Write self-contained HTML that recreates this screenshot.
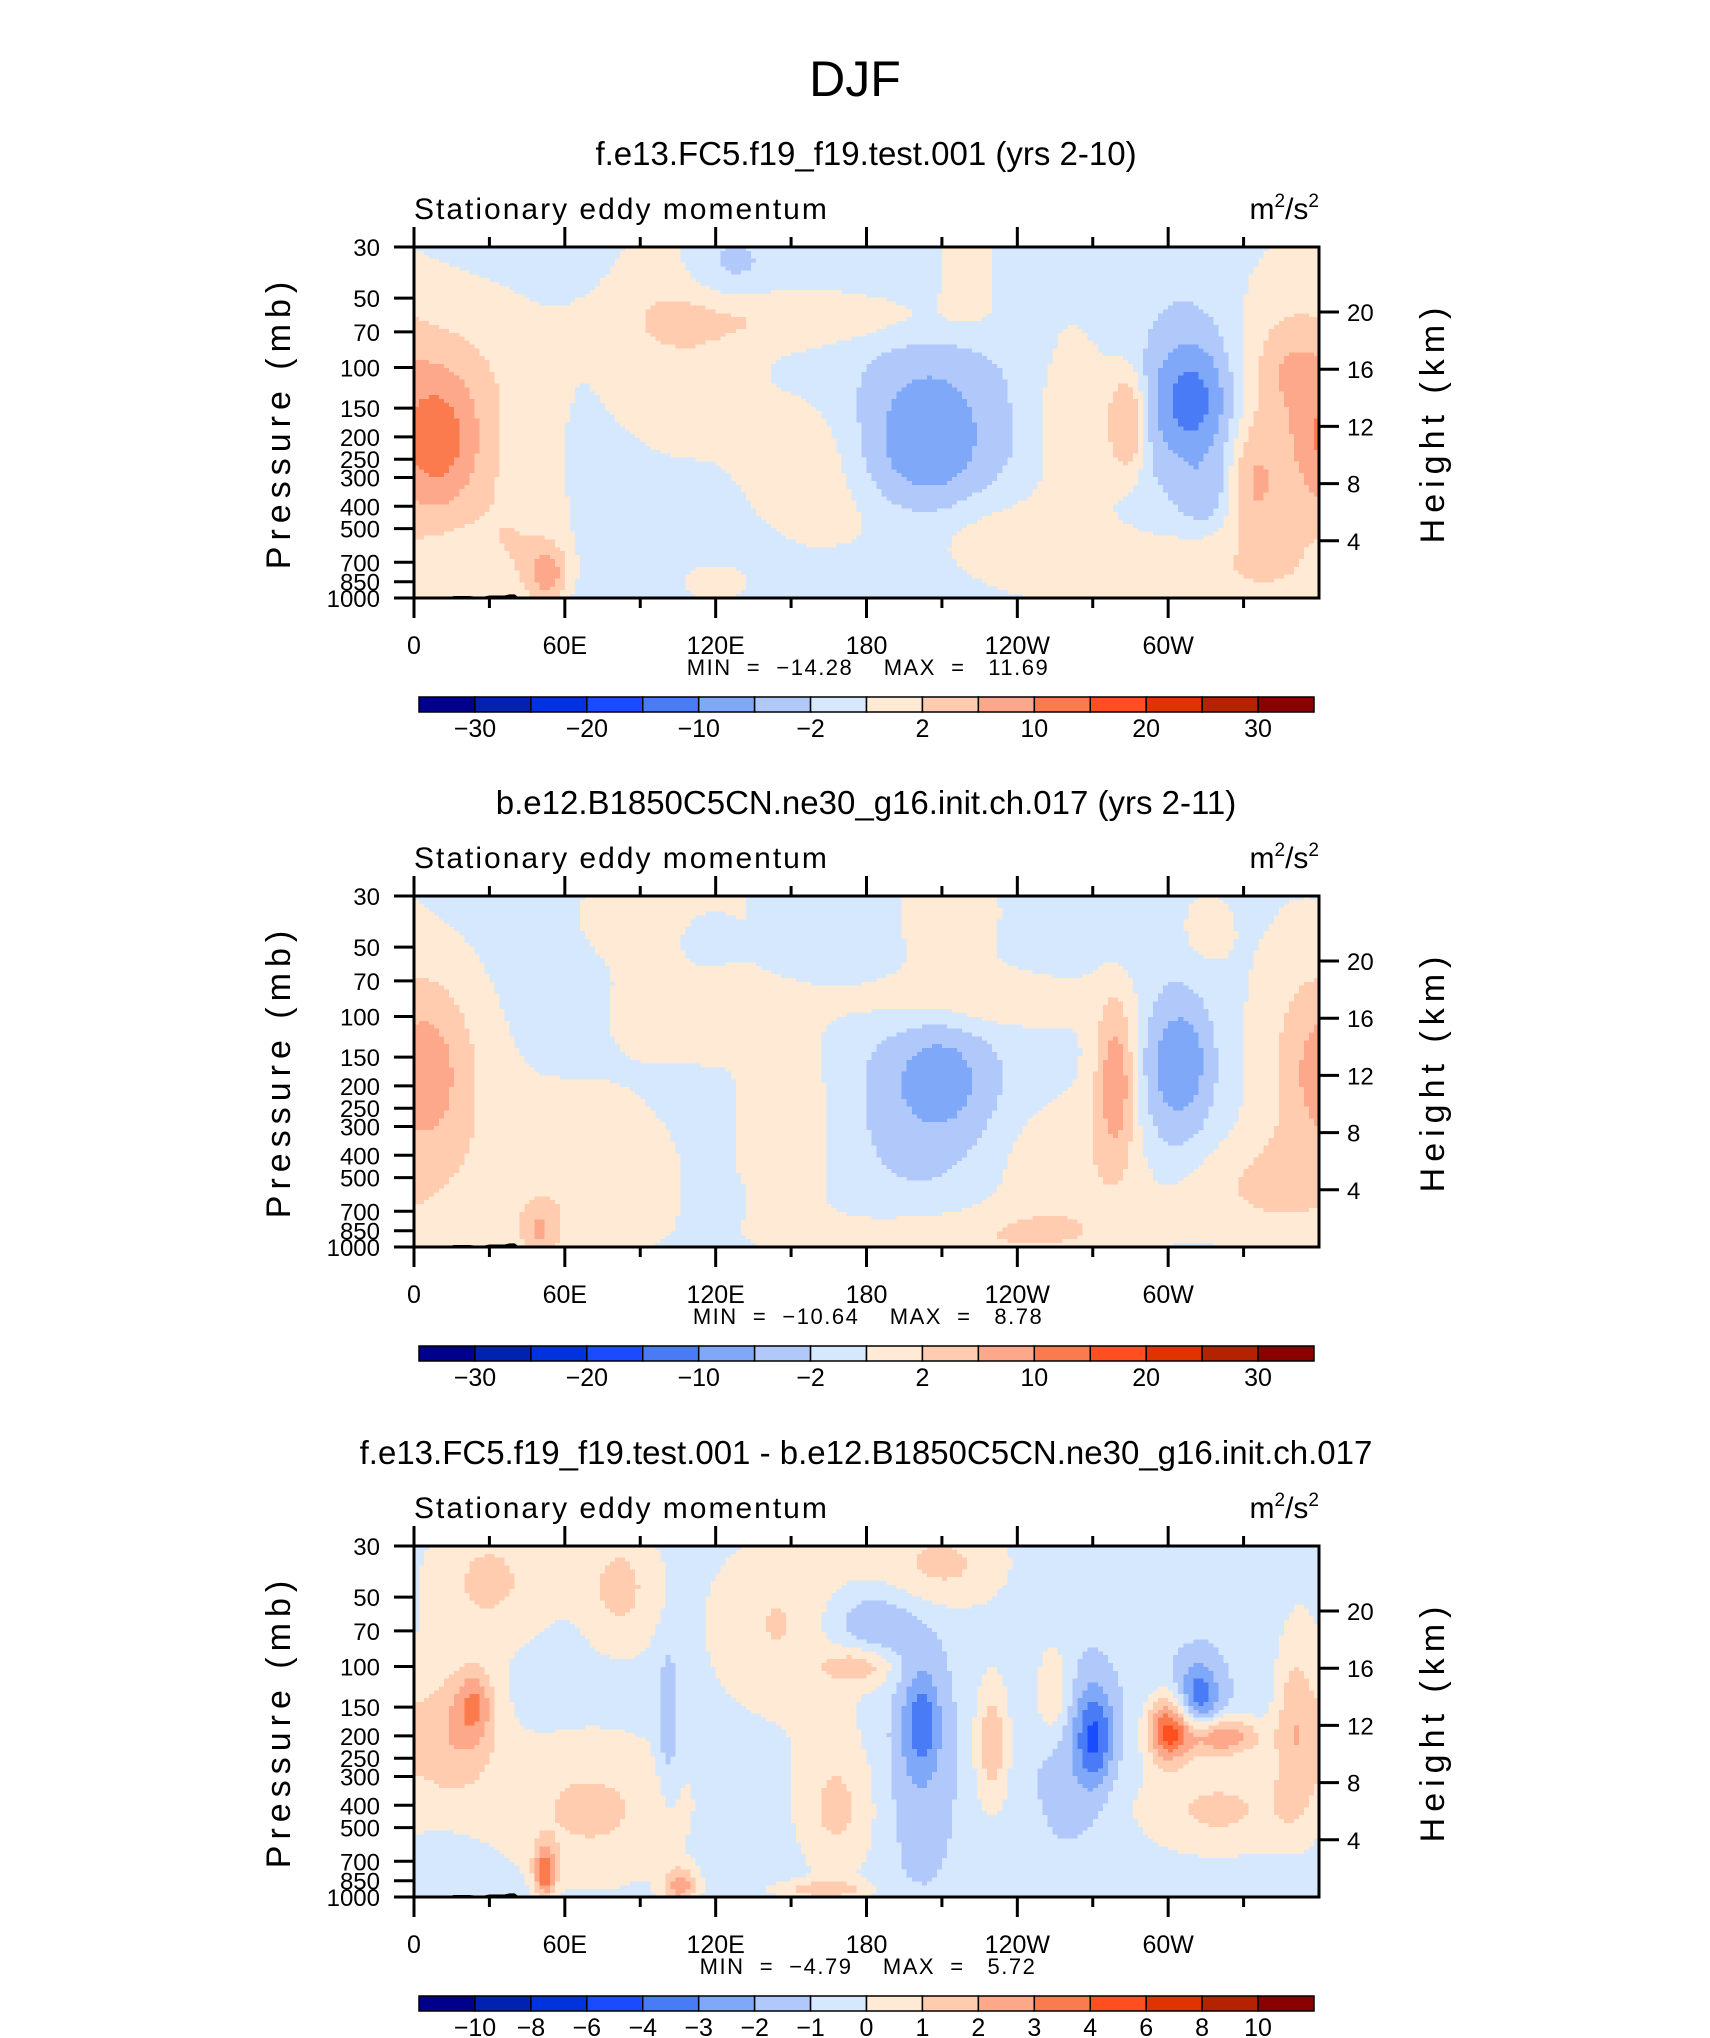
<!DOCTYPE html>
<html><head><meta charset="utf-8"><style>
html,body{margin:0;padding:0;background:#fff}
svg{display:block}
text{font-family:"Liberation Sans",sans-serif;fill:#000}
</style></head><body>
<svg id="root" width="1710" height="2038" viewBox="0 0 1710 2038">
<text x="855" y="96" font-size="50" text-anchor="middle">DJF</text>
</svg>
<script>
// ----- chart data -----
const panelTitles = ["f.e13.FC5.f19_f19.test.001 (yrs 2-10)", "b.e12.B1850C5CN.ne30_g16.init.ch.017 (yrs 2-11)", "f.e13.FC5.f19_f19.test.001 - b.e12.B1850C5CN.ne30_g16.init.ch.017"];
const panelMin = ["-14.28", "-10.64", "-4.79"];
const panelMax = ["11.69", "8.78", "5.72"];
const levelsAbs = [-30,-25,-20,-15,-10,-5,-2,0,2,5,10,15,20,25,30];
const levelsDiff = [-10,-8,-6,-4,-3,-2,-1,0,1,2,3,4,6,8,10];
const labelsAbs = ["","\u221230","","\u221220","","\u221210","","\u22122","","2","","10","","20","","30",""];
const labelsDiff = ["","\u221210","\u22128","\u22126","\u22124","\u22123","\u22122","\u22121","0","1","2","3","4","6","8","10",""];
const colors = ["#00008c","#0022b0","#0033dd","#1a4bff","#4a7bf7","#80a8f8","#b0c9fa","#d6e8fd","#ffead6","#ffccb0","#fda88a","#fc7b4e","#ff4f1f","#e03300","#b52200","#8b0000"];
const pressureTicks = [30,50,70,100,150,200,250,300,400,500,700,850,1000];
const heightTicks = [4,8,12,16,20];
const lonTicks = [0,60,120,180,240,300];
const lonLabels = ["0","60E","120E","180","120W","60W"];
const baseValue = [-1.0, -1.0, -0.8];
// blobs: lon(deg), pressure(mb), amplitude, lon-sigma(deg), y-sigma(axis fraction)
const blobLon1 = [20,9,40,53,105,125,160,160,215,220,263,284,345,335,350,290,204,204,309,309,314,120,369];
const blobP1   = [131,207,590,782,72,36,61,262,463,36,173,173,207,324,103,753,207,207,140,140,349,865,207];
const blobAmp1 = [3,9,2.5,7,2.5,-2.5,2.5,2.5,2.5,2.5,2.5,6,3,4,3,2.5,-5,-3,-9,-4,-3,2,3];
const blobSx1  = [25,10,15,5,22,12,50,20,30,8,13,5,18,6,8,50,14,25,8,14,6,10,10];
const blobSy1  = [.22,.12,.15,.05,.25,.08,.06,.16,.09,.1,.18,.1,.35,.1,.08,.08,.13,.22,.09,.18,.06,.04,.12];
const blobLon2 = [7,10,112,100,115,220,150,255,65,220,330,350,358,213,315,50,209,205,305,303,279,279];
const blobP2   = [180,173,99,36,45,86,295,463,494,900,550,173,173,36,42,840,187,245,156,173,193,193];
const blobAmp2 = [4,3,2.5,2.5,-2,2.5,2.5,2.5,2.5,2.5,2.5,2,2,2.5,2,5,-5,-2,-5,-4,6,3];
const blobSx2  = [8,18,22,25,8,40,15,22,30,50,25,15,6,15,8,5,12,25,6,10,4,8];
const blobSy2  = [.13,.25,.09,.12,.06,.07,.2,.17,.2,.06,.1,.35,.1,.12,.08,.05,.1,.2,.08,.17,.12,.2];
const blobLon3 = [24,14,202,200,230,271,262,300,320,312,178,101,52,106,162,30,82,150,210,180,70,168,320,350,254];
const blobP3   = [146,193,173,245,215,200,245,187,200,136,99,173,782,900,930,42,45,65,36,65,418,418,418,173,131];
const blobAmp3 = [2.3,2.5,-2.2,-1,2.5,-3,-1,4.5,3.5,-3,2,-1.5,4,3,2,2,2,2,2,-2,2,2,2,2,2];
const blobSx3  = [5,14,5,9,5,5,9,6,12,6,10,3,3,5,15,20,12,25,20,15,30,12,25,6,5];
const blobSy3  = [.07,.14,.1,.22,.14,.1,.15,.07,.04,.07,.04,.15,.05,.04,.02,.15,.14,.2,.1,.08,.17,.15,.1,.2,.1];
const topoLon = [0,8,10,14,16,22,24,28,30,36,38,40,42,44,238,240,242,246,248,258,260,360];
const topoP   = [1000,1000,990,990,980,980,985,985,975,975,965,965,1000,1000,1000,985,985,992,997,997,1000,1000];

const NS = "http://www.w3.org/2000/svg";
const root = document.getElementById('root');
function mk(tag, attrs, parent){const e=document.createElementNS(NS,tag);for(const k in attrs)e.setAttribute(k,attrs[k]);(parent||root).appendChild(e);return e;}

const X0=414, X1=1319, PH=351, tops=[247,896,1546];
const W=X1-X0;
const xScale = lon => X0 + lon/360*W;
const fracP = p => Math.log(p/30)/Math.log(1000/30);

const blobs=[[blobLon1,blobP1,blobAmp1,blobSx1,blobSy1],[blobLon2,blobP2,blobAmp2,blobSx2,blobSy2],[blobLon3,blobP3,blobAmp3,blobSx3,blobSy3]];

for(let k=0;k<3;k++){
  const T=tops[k], B=T+PH;
  const yScale = p => T + fracP(p)*PH;
  const g = mk('g',{});
  
  
  const tt = mk('text',{x:866,y:T-82,'font-size':33,'text-anchor':'middle'},g);
  tt.textContent=panelTitles[k];
  
  
  const st = mk('text',{x:X0,y:T-28,'font-size':30,'letter-spacing':2},g);
  st.textContent='Stationary eddy momentum';
  
  
  const ut = mk('text',{x:X1,y:T-28,'font-size':30,'text-anchor':'end'},g);
  ut.innerHTML='m<tspan font-size="19" dy="-12">2</tspan><tspan dy="12">/s</tspan><tspan font-size="19" dy="-12">2</tspan>';
  
  
  const levels = k<2?levelsAbs:levelsDiff;
  const [bl,bp,ba,bsx,bsy]=blobs[k];
  const NX=180, NY=90;
  const fg = mk('g',{'shape-rendering':'crispEdges'},g);
  
  
  const cw=W/NX, ch=PH/NY;
  for(let j=0;j<NY;j++){
    const fy=(j+0.5)/NY;
    let runStart=0, runCol=null;
    for(let i=0;i<=NX;i++){
      let col=null;
      if(i<NX){
        const lon=(i+0.5)/NX*360;
        let v=baseValue[k];
        for(let b=0;b<bl.length;b++){
          let dl=lon-bl[b]; if(dl>180)dl-=360; if(dl<-180)dl+=360;
          const dy=fy-fracP(bp[b]);
          v+=ba[b]*Math.exp(-0.5*(dl*dl/(bsx[b]*bsx[b])+dy*dy/(bsy[b]*bsy[b])));
        }
        let c=0; while(c<levels.length && v>=levels[c]) c++;
        col=colors[c];
      }
      if(col!==runCol){
        if(runCol!==null){
          const r=mk('rect',{x:(X0+runStart*cw).toFixed(2),y:(T+j*ch).toFixed(2),width:((i-runStart)*cw+0.6).toFixed(2),height:(ch+0.6).toFixed(2),fill:runCol},fg);
          
          
        }
        runStart=i; runCol=col;
      }
    }
  }
  let pts=topoLon.map((l,i)=>xScale(l).toFixed(1)+','+yScale(topoP[i]).toFixed(1)).join(' ');
  pts+=' '+X1+','+B+' '+X0+','+B;
  const tp=mk('polygon',{points:pts,fill:'#000'},g);
  
  
  const fr=mk('rect',{x:X0,y:T,width:W,height:PH,fill:'none',stroke:'#000','stroke-width':3},g);
  
  
  for(let l=0;l<360;l+=30){
    const x=xScale(l), major=(l%60===0);
    const len=major?20:10;
    mk('line',{x1:x,y1:T,x2:x,y2:T-len,stroke:'#000','stroke-width':3},g);
    mk('line',{x1:x,y1:B,x2:x,y2:B+len,stroke:'#000','stroke-width':3},g);
  }
  lonTicks.forEach((l,i)=>{
    const t=mk('text',{x:xScale(l),y:B+56,'font-size':25,'text-anchor':'middle'},g);
    t.textContent=lonLabels[i];
    
    
  });
  const mm=mk('text',{x:868,y:B+77,'font-size':22,'text-anchor':'middle','letter-spacing':1.5,style:'white-space:pre'},g);
  mm.textContent='MIN  =  '+panelMin[k].replace('-','\u2212')+'    MAX  =   '+panelMax[k];
  
  
  pressureTicks.forEach(p=>{
    const y=yScale(p);
    mk('line',{x1:X0,y1:y,x2:X0-20,y2:y,stroke:'#000','stroke-width':3},g);
    const t=mk('text',{x:X0-34,y:y+9,'font-size':24,'text-anchor':'end'},g);
    t.textContent=String(p);
    
    
  });
  heightTicks.forEach(h=>{
    const y=yScale(1000*Math.exp(-h/7));
    mk('line',{x1:X1,y1:y,x2:X1+20,y2:y,stroke:'#000','stroke-width':3},g);
    const t=mk('text',{x:X1+28,y:y+9,'font-size':24},g);
    t.textContent=String(h);
    
    
  });
  const yl=mk('text',{x:0,y:0,'font-size':34,'text-anchor':'middle','letter-spacing':6,transform:'translate(290,'+(T+PH/2)+') rotate(-90)'},g);
  yl.textContent='Pressure (mb)';
  
  
  const yr=mk('text',{x:0,y:0,'font-size':34,'text-anchor':'middle','letter-spacing':6,transform:'translate(1444,'+(T+PH/2)+') rotate(-90)'},g);
  yr.textContent='Height (km)';
  
  
  const cb=mk('g',{},g);
  
  
  const cx0=419, cx1=1314, cy=B+99, chh=15, bw=(cx1-cx0)/16;
  colors.forEach((c,i)=>{
    const r=mk('rect',{x:cx0+i*bw,y:cy,width:bw,height:chh,fill:c,stroke:'#000','stroke-width':1.5},cb);
    
    
  });
  const labs=k<2?labelsAbs:labelsDiff;
  labs.forEach((s,i)=>{
    if(!s)return;
    const t=mk('text',{x:cx0+i*bw,y:cy+40,'font-size':25,'text-anchor':'middle'},cb);
    t.textContent=s;
    
    
  });
}
</script>
</body></html>
